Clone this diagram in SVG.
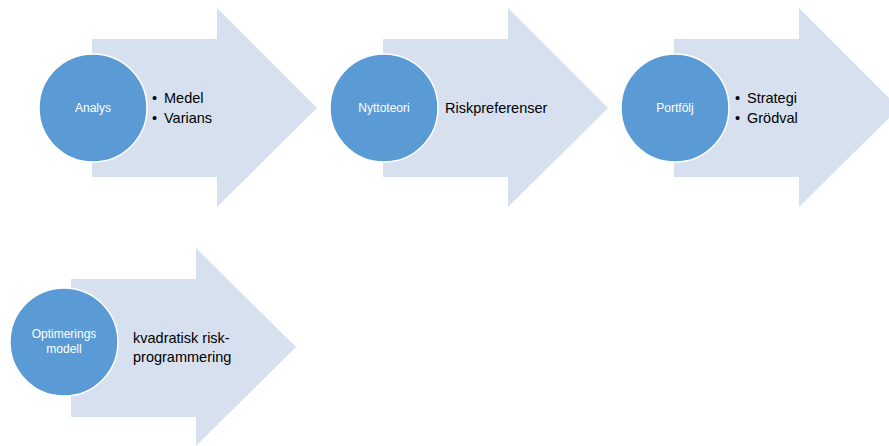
<svg xmlns="http://www.w3.org/2000/svg" width="889" height="446" viewBox="0 0 889 446">
<style>
.arrow{fill:#D6E0EF;stroke:none}
.circ{fill:#5B9BD5;stroke:#FFFFFF;stroke-width:1.5}
.ct{font-family:"Liberation Sans",Arial,sans-serif;font-size:12px;fill:#FFFFFF;text-anchor:middle}
.bt{font-family:"Liberation Sans",Arial,sans-serif;font-size:14.5px;fill:#000000}
</style>
<rect width="889" height="446" fill="#FFFFFF"/>
<g id="connectors"/>
<g id="node-analys">
<path class="arrow" d="M92,39 H217 V8 L317,108 L217,207 V177 H92 Z"/>
<circle class="circ" cx="93" cy="108" r="54"/>
<text class="ct" x="93" y="112">Analys</text>
<text class="bt" x="152" y="103">•</text><text class="bt" x="164" y="103">Medel</text>
<text class="bt" x="152" y="123">•</text><text class="bt" x="164" y="123">Varians</text>
</g>
<g id="node-nyttoteori">
<path class="arrow" d="M383,39 H508 V8 L608,108 L508,207 V177 H383 Z"/>
<circle class="circ" cx="384" cy="108" r="54"/>
<text class="ct" x="384" y="112">Nyttoteori</text>
<text class="bt" x="445" y="113">Riskpreferenser</text>
</g>
<g id="node-portfolj">
<path class="arrow" d="M674,39 H799 V8 L899,108 L799,207 V177 H674 Z"/>
<circle class="circ" cx="675" cy="108" r="54"/>
<text class="ct" x="675" y="112">Portfölj</text>
<text class="bt" x="735" y="103">•</text><text class="bt" x="747" y="103">Strategi</text>
<text class="bt" x="735" y="123">•</text><text class="bt" x="747" y="123">Grödval</text>
</g>
<g id="node-optimering">
<path class="arrow" d="M71,279 H196 V248 L296,347 L196,446 V417 H71 Z"/>
<circle class="circ" cx="64" cy="342" r="54"/>
<text class="ct" x="64" y="338">Optimerings</text>
<text class="ct" x="64" y="353">modell</text>
<text class="bt" x="133" y="343">kvadratisk risk-</text>
<text class="bt" x="133" y="362">programmering</text>
</g>
</svg>
